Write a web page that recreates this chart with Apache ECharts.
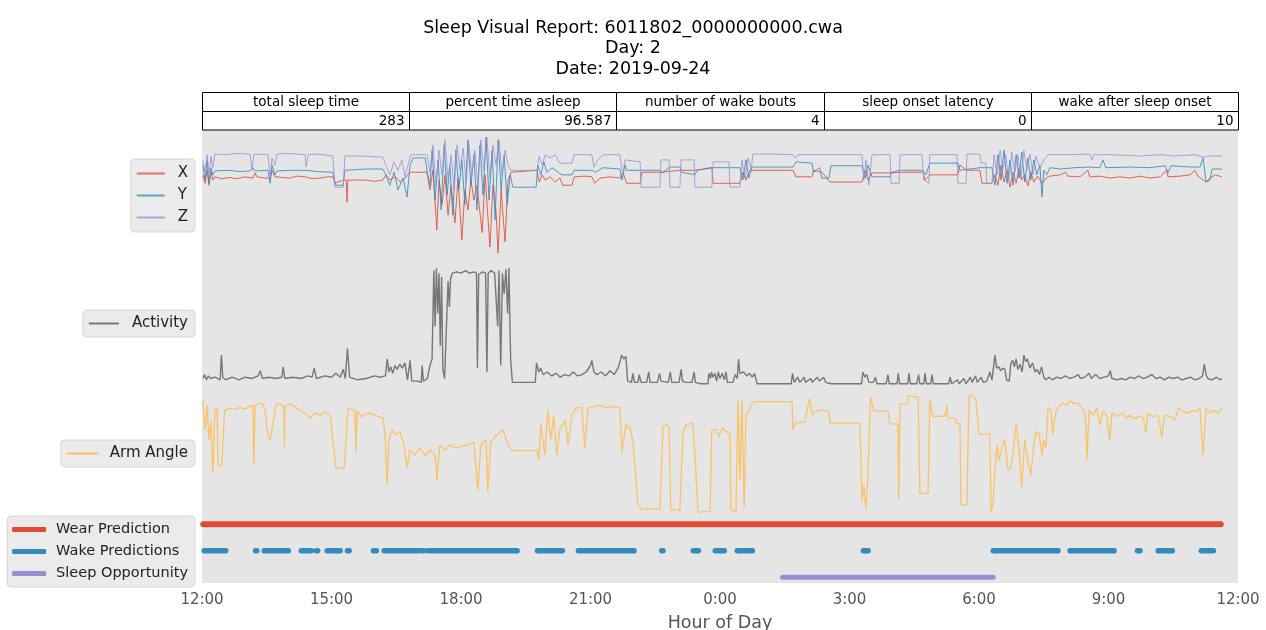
<!DOCTYPE html>
<html>
<head>
<meta charset="utf-8">
<title>Sleep Visual Report</title>
<script src="https://cdn.jsdelivr.net/npm/echarts@6/dist/echarts.min.js"></script>
<style>
  html, body { margin: 0; padding: 0; background: #fff; }
  #chart { width: 1266px; height: 630px; }
</style>
</head>
<body>
<div id="chart"></div>
<script>
  // time is hours after 12:00 on the report day
  const tickLabels = ['12:00', '15:00', '18:00', '21:00', '0:00', '3:00', '6:00', '9:00', '12:00'];

  const tableHeaders = ['total sleep time', 'percent time asleep', 'number of wake bouts', 'sleep onset latency', 'wake after sleep onset'];
  const tableValues = ['283', '96.587', '4', '0', '10'];

  // accelerometer axes (g)
  const accX = [
    [0.02,0.31],[0.07,0.18],[0.12,0.38],[0.16,0.15],[0.21,0.35],[0.25,0.23],[0.3,0.28],[0.45,0.25],[0.65,0.27],[0.8,0.25],[1.0,0.28],[1.18,0.26],[1.23,0.34],[1.27,0.28],[1.45,0.26],[1.58,0.26],[1.62,0.38],[1.69,0.28],[2.04,0.26],[2.2,0.29],[2.39,0.28],[2.55,0.25],[2.73,0.26],[2.9,0.28],[3.03,0.28],[3.08,0.18],[3.27,0.23],[3.34,0.23],[3.36,-0.11],[3.38,0.23],[3.78,0.23],[4.0,0.21],[4.19,0.23],[4.26,0.31],[4.35,0.23],[4.47,0.28],[4.59,0.2],[4.7,0.26],[4.82,0.35],[5.21,0.35],[5.28,0.08],[5.35,0.38],[5.44,-0.54],[5.49,0.23],[5.56,-0.15],[5.63,0.31],[5.7,-0.31],[5.77,0.15],[5.86,-0.43],[5.93,0.26],[6.02,-0.69],[6.09,0.08],[6.16,-0.23],[6.23,0.23],[6.3,-0.08],[6.37,0.15],[6.49,-0.58],[6.56,0.31],[6.62,-0.31],[6.67,-0.8],[6.74,0.15],[6.81,-0.23],[6.86,-0.89],[6.93,0.08],[7.02,-0.72],[7.09,0.23],[7.16,0.35],[7.2,0.38],[7.76,0.38],[7.81,0.2],[7.88,0.31],[7.95,0.23],[8.06,0.28],[8.18,0.2],[8.29,0.26],[8.36,0.15],[8.57,0.15],[8.62,0.28],[8.87,0.29],[9.03,0.28],[9.1,0.18],[9.22,0.26],[9.45,0.28],[9.68,0.26],[9.75,0.35],[9.84,0.18],[10.15,0.18],[10.19,0.35],[10.61,0.35],[11.07,0.38],[11.42,0.38],[11.81,0.42],[11.84,0.18],[12.46,0.18],[12.53,0.35],[12.6,0.23],[12.69,0.38],[13.69,0.38],[13.76,0.28],[14.13,0.28],[14.17,0.38],[14.36,0.35],[14.55,0.2],[15.29,0.2],[15.36,0.38],[15.43,0.23],[15.52,0.34],[15.94,0.34],[16.17,0.35],[16.7,0.35],[16.75,0.23],[16.86,0.31],[17.51,0.31],[17.56,0.46],[17.72,0.38],[18.02,0.38],[18.07,0.18],[18.3,0.18],[18.37,0.31],[18.44,0.15],[18.51,0.46],[18.58,0.2],[18.65,0.38],[18.72,0.12],[18.79,0.35],[18.86,0.18],[18.93,0.42],[18.99,0.23],[19.06,0.31],[19.13,0.14],[19.2,0.35],[19.27,0.2],[19.36,0.29],[19.46,0.18],[19.55,0.26],[19.64,0.29],[19.88,0.31],[20.0,0.35],[20.06,0.29],[20.34,0.28],[20.52,0.38],[20.57,0.28],[20.8,0.29],[21.03,0.26],[21.26,0.28],[21.5,0.26],[21.73,0.29],[21.96,0.26],[22.2,0.28],[22.34,0.38],[22.38,0.28],[22.66,0.29],[22.89,0.31],[23.0,0.38],[23.07,0.29],[23.26,0.2],[23.35,0.26],[23.47,0.31],[23.63,0.28]
  ];
  const accY = [
    [0.02,0.46],[0.07,0.23],[0.12,0.54],[0.16,0.18],[0.21,0.42],[0.25,0.31],[0.3,0.37],[0.6,0.38],[0.9,0.36],[1.11,0.37],[1.18,0.42],[1.23,0.37],[1.53,0.38],[1.58,0.18],[1.62,0.46],[1.69,0.31],[1.74,0.37],[2.1,0.38],[2.39,0.38],[2.7,0.36],[3.03,0.35],[3.06,0.26],[3.1,0.15],[3.27,0.15],[3.31,0.38],[3.8,0.4],[4.19,0.4],[4.26,0.31],[4.35,0.15],[4.45,0.35],[4.54,0.08],[4.66,0.26],[4.75,-0.03],[4.82,0.46],[4.89,0.57],[5.17,0.57],[5.21,0.38],[5.28,0.15],[5.33,0.69],[5.4,-0.08],[5.47,0.54],[5.54,-0.23],[5.61,0.77],[5.68,0.0],[5.74,0.46],[5.81,-0.31],[5.88,0.69],[5.95,0.08],[6.02,0.54],[6.09,-0.15],[6.16,0.85],[6.23,0.15],[6.3,0.62],[6.37,-0.23],[6.44,0.77],[6.51,0.0],[6.58,0.89],[6.65,-0.08],[6.72,0.69],[6.79,-0.38],[6.86,0.85],[6.93,0.08],[7.0,0.62],[7.07,-0.15],[7.14,0.31],[7.2,0.12],[7.74,0.12],[7.78,0.46],[7.85,0.31],[7.92,0.51],[7.99,0.35],[8.11,0.42],[8.25,0.35],[8.34,0.31],[8.57,0.31],[8.62,0.38],[9.03,0.38],[9.12,0.35],[9.29,0.42],[9.68,0.4],[9.73,0.23],[9.8,0.46],[9.84,0.38],[10.61,0.38],[10.66,0.34],[10.84,0.43],[11.07,0.43],[11.12,0.35],[11.42,0.31],[11.47,0.38],[11.81,0.42],[12.46,0.42],[12.53,0.23],[12.6,0.54],[12.67,0.26],[12.74,0.43],[13.69,0.43],[13.76,0.51],[14.13,0.49],[14.17,0.35],[14.31,0.42],[14.36,0.26],[14.52,0.26],[14.57,0.45],[15.29,0.45],[15.36,0.26],[15.43,0.46],[15.52,0.28],[15.94,0.28],[15.98,0.35],[16.17,0.38],[16.7,0.38],[16.77,0.31],[16.86,0.49],[17.51,0.49],[17.56,0.38],[18.02,0.42],[18.3,0.42],[18.37,0.15],[18.44,0.62],[18.51,0.23],[18.58,0.69],[18.65,0.18],[18.72,0.54],[18.79,0.15],[18.86,0.62],[18.93,0.26],[18.99,0.66],[19.06,0.2],[19.13,0.57],[19.2,0.23],[19.27,0.54],[19.34,0.31],[19.41,0.46],[19.46,-0.03],[19.5,0.38],[19.57,0.31],[19.64,0.42],[19.88,0.4],[20.22,0.42],[20.57,0.43],[20.8,0.42],[20.87,0.54],[20.94,0.42],[21.5,0.43],[21.96,0.42],[22.31,0.45],[22.38,0.34],[22.45,0.45],[22.89,0.43],[23.12,0.43],[23.19,0.57],[23.26,0.2],[23.35,0.23],[23.4,0.4],[23.63,0.4]
  ];
  const accZ = [
    [0.02,0.54],[0.07,0.35],[0.12,0.62],[0.16,0.31],[0.21,0.6],[0.25,0.42],[0.3,0.63],[0.55,0.62],[0.8,0.64],[1.11,0.63],[1.16,0.38],[1.2,0.63],[1.53,0.62],[1.58,0.26],[1.62,0.57],[1.69,0.46],[1.74,0.63],[2.0,0.64],[2.39,0.62],[2.41,0.43],[2.46,0.62],[2.7,0.63],[3.03,0.6],[3.08,0.12],[3.27,0.12],[3.31,0.6],[3.7,0.6],[4.19,0.58],[4.26,0.46],[4.35,0.31],[4.45,0.51],[4.54,0.38],[4.63,0.54],[4.7,0.28],[4.77,0.46],[4.84,0.62],[5.21,0.62],[5.28,0.35],[5.35,0.77],[5.42,0.15],[5.49,0.69],[5.56,0.31],[5.63,0.85],[5.7,0.23],[5.77,0.62],[5.84,0.08],[5.91,0.77],[5.98,0.38],[6.05,0.72],[6.12,0.18],[6.18,0.8],[6.25,0.31],[6.32,0.69],[6.39,0.15],[6.46,0.85],[6.53,0.38],[6.6,0.89],[6.67,0.26],[6.74,0.77],[6.81,0.46],[6.88,0.85],[6.95,0.31],[7.02,0.69],[7.09,0.46],[7.16,0.38],[7.2,0.38],[7.76,0.38],[7.81,0.6],[7.88,0.46],[7.95,0.62],[8.06,0.57],[8.18,0.62],[8.29,0.49],[8.57,0.49],[8.62,0.62],[9.03,0.62],[9.08,0.43],[9.17,0.54],[9.29,0.62],[9.68,0.62],[9.75,0.31],[9.8,0.54],[9.84,0.51],[10.15,0.51],[10.17,0.12],[10.61,0.12],[10.63,0.54],[10.82,0.54],[10.84,0.12],[11.07,0.12],[11.1,0.54],[11.4,0.54],[11.42,0.12],[11.81,0.12],[11.84,0.51],[12.21,0.51],[12.23,0.12],[12.46,0.12],[12.51,0.54],[12.58,0.26],[12.65,0.57],[12.72,0.38],[12.76,0.63],[13.2,0.63],[13.69,0.62],[13.74,0.57],[13.81,0.62],[14.5,0.62],[15.29,0.62],[15.33,0.23],[15.38,0.54],[15.45,0.15],[15.52,0.62],[15.94,0.62],[15.96,0.18],[16.15,0.18],[16.17,0.62],[16.68,0.62],[16.72,0.23],[16.84,0.18],[16.86,0.62],[17.49,0.62],[17.51,0.18],[17.7,0.18],[17.72,0.63],[18.02,0.63],[18.05,0.49],[18.16,0.49],[18.18,0.18],[18.3,0.18],[18.35,0.62],[18.42,0.31],[18.49,0.69],[18.55,0.38],[18.62,0.62],[18.69,0.23],[18.76,0.66],[18.83,0.35],[18.9,0.62],[18.97,0.26],[19.04,0.69],[19.11,0.38],[19.18,0.63],[19.25,0.31],[19.32,0.6],[19.41,0.42],[19.5,0.54],[19.6,0.62],[19.64,0.63],[20.11,0.62],[20.57,0.63],[20.62,0.54],[20.66,0.62],[21.03,0.62],[21.4,0.61],[21.73,0.6],[22.2,0.62],[22.54,0.6],[23.0,0.62],[23.23,0.58],[23.3,0.6],[23.63,0.6]
  ];

  // activity (g)
  const activity = [
    [0.02,0.05],[0.06,0.08],[0.1,0.04],[0.15,0.07],[0.2,0.05],[0.3,0.06],[0.42,0.04],[0.45,0.23],[0.48,0.06],[0.55,0.04],[0.7,0.06],[0.85,0.04],[1.0,0.06],[1.15,0.05],[1.3,0.07],[1.35,0.11],[1.4,0.05],[1.55,0.06],[1.7,0.05],[1.85,0.06],[1.88,0.14],[1.92,0.05],[2.1,0.06],[2.3,0.05],[2.45,0.07],[2.55,0.06],[2.6,0.13],[2.65,0.05],[2.85,0.07],[3.0,0.06],[3.1,0.09],[3.2,0.06],[3.27,0.12],[3.32,0.05],[3.37,0.28],[3.42,0.06],[3.6,0.04],[3.8,0.05],[4.0,0.07],[4.1,0.06],[4.25,0.07],[4.29,0.2],[4.33,0.1],[4.37,0.14],[4.42,0.09],[4.47,0.15],[4.52,0.12],[4.58,0.16],[4.64,0.13],[4.7,0.17],[4.76,0.04],[4.82,0.19],[4.86,0.03],[5.0,0.03],[5.08,0.02],[5.1,0.15],[5.13,0.03],[5.22,0.05],[5.28,0.15],[5.33,0.2],[5.37,0.88],[5.4,0.45],[5.43,0.9],[5.46,0.55],[5.49,0.86],[5.52,0.3],[5.55,0.83],[5.58,0.12],[5.62,0.05],[5.66,0.04],[5.7,0.8],[5.73,0.6],[5.76,0.82],[5.8,0.86],[5.9,0.87],[6.0,0.86],[6.1,0.88],[6.2,0.86],[6.3,0.87],[6.36,0.86],[6.38,0.13],[6.41,0.85],[6.5,0.87],[6.57,0.86],[6.6,0.1],[6.63,0.86],[6.7,0.88],[6.78,0.86],[6.82,0.87],[6.85,0.45],[6.88,0.88],[6.92,0.15],[6.96,0.86],[7.0,0.7],[7.04,0.89],[7.08,0.55],[7.11,0.9],[7.15,0.2],[7.19,0.02],[7.72,0.02],[7.75,0.17],[7.8,0.1],[7.85,0.13],[7.9,0.08],[8.0,0.1],[8.1,0.07],[8.2,0.09],[8.3,0.06],[8.4,0.08],[8.5,0.07],[8.6,0.1],[8.7,0.07],[8.8,0.08],[8.9,0.1],[9.0,0.15],[9.03,0.19],[9.08,0.1],[9.15,0.08],[9.25,0.1],[9.35,0.07],[9.45,0.11],[9.55,0.08],[9.65,0.14],[9.72,0.23],[9.77,0.2],[9.82,0.22],[9.86,0.03],[9.95,0.02],[9.98,0.09],[10.02,0.02],[10.1,0.02],[10.13,0.08],[10.17,0.02],[10.3,0.02],[10.35,0.1],[10.38,0.02],[10.55,0.02],[10.6,0.09],[10.63,0.03],[10.8,0.02],[10.85,0.1],[10.88,0.02],[11.05,0.02],[11.1,0.12],[11.13,0.03],[11.2,0.02],[11.35,0.02],[11.4,0.1],[11.43,0.02],[11.55,0.01],[11.72,0.01],[11.74,0.09],[11.78,0.05],[11.8,0.1],[11.84,0.06],[11.88,0.09],[11.92,0.03],[11.96,0.1],[12.0,0.05],[12.05,0.09],[12.1,0.04],[12.14,0.1],[12.17,0.02],[12.3,0.02],[12.35,0.08],[12.4,0.05],[12.43,0.2],[12.46,0.09],[12.55,0.1],[12.62,0.07],[12.68,0.09],[12.75,0.06],[12.8,0.09],[12.86,0.01],[13.65,0.01],[13.68,0.09],[13.72,0.02],[13.8,0.06],[13.85,0.02],[13.95,0.06],[13.98,0.02],[14.1,0.05],[14.14,0.02],[14.25,0.06],[14.3,0.03],[14.4,0.06],[14.45,0.02],[14.57,0.01],[15.28,0.01],[15.31,0.1],[15.36,0.06],[15.4,0.08],[15.45,0.02],[15.55,0.02],[15.6,0.06],[15.64,0.01],[15.85,0.01],[15.89,0.08],[15.92,0.01],[16.1,0.01],[16.13,0.09],[16.16,0.01],[16.35,0.01],[16.38,0.09],[16.41,0.01],[16.56,0.01],[16.6,0.08],[16.63,0.01],[16.72,0.01],[16.75,0.09],[16.78,0.01],[16.88,0.01],[16.91,0.08],[16.94,0.01],[17.3,0.01],[17.33,0.06],[17.37,0.01],[17.5,0.04],[17.54,0.01],[17.65,0.05],[17.7,0.01],[17.8,0.06],[17.84,0.02],[17.92,0.07],[17.96,0.02],[18.05,0.06],[18.1,0.02],[18.18,0.03],[18.25,0.1],[18.3,0.04],[18.37,0.23],[18.41,0.13],[18.46,0.14],[18.5,0.11],[18.55,0.13],[18.6,0.12],[18.64,0.04],[18.7,0.03],[18.74,0.17],[18.78,0.19],[18.82,0.14],[18.86,0.2],[18.9,0.12],[18.95,0.16],[19.0,0.1],[19.04,0.23],[19.08,0.18],[19.12,0.2],[19.18,0.13],[19.24,0.17],[19.3,0.1],[19.35,0.12],[19.4,0.08],[19.45,0.14],[19.5,0.06],[19.55,0.04],[19.62,0.06],[19.7,0.04],[19.8,0.06],[19.9,0.05],[20.0,0.07],[20.1,0.05],[20.2,0.06],[20.3,0.08],[20.35,0.05],[20.45,0.06],[20.55,0.09],[20.6,0.05],[20.7,0.08],[20.8,0.05],[20.9,0.06],[21.0,0.07],[21.04,0.11],[21.08,0.05],[21.2,0.04],[21.3,0.05],[21.4,0.04],[21.5,0.06],[21.6,0.05],[21.7,0.07],[21.8,0.05],[21.9,0.06],[22.0,0.08],[22.1,0.05],[22.2,0.06],[22.3,0.04],[22.4,0.06],[22.5,0.05],[22.6,0.06],[22.7,0.04],[22.8,0.05],[22.9,0.06],[23.0,0.04],[23.1,0.05],[23.18,0.07],[23.22,0.16],[23.26,0.08],[23.3,0.05],[23.4,0.04],[23.5,0.06],[23.58,0.04],[23.63,0.05]
  ];

  // arm angle (degrees)
  const armAngle = [
    [0.02,76],[0.07,35],[0.12,69],[0.16,21],[0.21,48],[0.25,-25],[0.3,62],[0.35,65],[0.37,-15],[0.46,-15],[0.51,48],[0.53,62],[0.65,65],[0.75,63],[0.88,66],[1.0,64],[1.11,67],[1.18,69],[1.2,-14],[1.23,69],[1.39,72],[1.46,62],[1.53,25],[1.58,21],[1.64,42],[1.71,69],[1.81,71],[1.9,66],[1.91,11],[1.92,67],[2.04,71],[2.15,67],[2.27,62],[2.39,58],[2.5,51],[2.62,58],[2.73,55],[2.85,60],[2.97,55],[3.03,21],[3.1,-18],[3.29,-19],[3.34,21],[3.38,65],[3.54,62],[3.57,4],[3.59,60],[3.71,53],[3.85,58],[4.01,55],[4.19,51],[4.24,30],[4.29,-42],[4.33,21],[4.4,35],[4.49,28],[4.59,32],[4.68,14],[4.75,-18],[4.82,7],[4.93,0],[5.05,10],[5.17,-1],[5.28,7],[5.4,0],[5.44,-35],[5.51,14],[5.63,7],[5.74,14],[5.86,10],[6.0,12],[6.21,15],[6.3,18],[6.39,-49],[6.46,14],[6.58,21],[6.62,-51],[6.69,18],[6.83,28],[6.97,35],[7.09,14],[7.18,6],[7.76,6],[7.8,-7],[7.85,42],[7.94,0],[8.01,62],[8.08,21],[8.15,55],[8.22,0],[8.29,35],[8.41,48],[8.48,14],[8.57,55],[8.66,65],[8.8,66],[8.87,10],[8.94,65],[9.1,67],[9.21,69],[9.35,66],[9.5,67],[9.68,66],[9.73,4],[9.82,42],[9.91,37],[9.98,21],[10.1,-69],[10.19,-75],[10.61,-75],[10.68,39],[10.77,42],[10.82,39],[10.86,-76],[11.07,-76],[11.14,30],[11.21,42],[11.37,44],[11.44,-21],[11.49,-79],[11.77,-78],[11.81,34],[11.91,35],[11.98,26],[12.05,37],[12.16,32],[12.23,30],[12.25,-75],[12.37,-79],[12.42,76],[12.46,-35],[12.51,74],[12.56,-73],[12.6,55],[12.67,62],[12.74,71],[12.81,74],[13.67,74],[13.69,35],[13.74,44],[13.97,46],[14.04,69],[14.08,78],[14.13,55],[14.2,60],[14.32,62],[14.52,60],[14.55,44],[15.24,44],[15.29,-62],[15.33,-42],[15.38,-73],[15.42,-35],[15.49,80],[15.56,61],[15.89,61],[15.93,43],[16.12,43],[16.14,-62],[16.17,71],[16.35,71],[16.37,82],[16.59,80],[16.63,-53],[16.82,-53],[16.86,76],[16.93,53],[17.21,54],[17.26,69],[17.28,51],[17.44,51],[17.49,43],[17.56,43],[17.58,-69],[17.72,-69],[17.77,83],[17.86,82],[17.93,76],[18.0,29],[18.25,29],[18.28,-79],[18.32,-69],[18.37,-21],[18.42,14],[18.46,-7],[18.53,10],[18.6,21],[18.67,-21],[18.74,-18],[18.79,4],[18.86,42],[18.93,7],[18.99,-45],[19.06,21],[19.13,-7],[19.2,-28],[19.27,14],[19.32,32],[19.39,30],[19.46,0],[19.5,21],[19.55,10],[19.6,66],[19.67,62],[19.71,28],[19.78,60],[19.85,67],[19.94,72],[20.04,69],[20.11,75],[20.2,71],[20.29,72],[20.39,65],[20.46,58],[20.5,-7],[20.55,62],[20.64,55],[20.73,65],[20.8,42],[20.87,60],[20.96,55],[21.03,21],[21.08,58],[21.2,53],[21.31,58],[21.43,51],[21.5,55],[21.61,50],[21.71,54],[21.8,51],[21.87,32],[21.91,58],[22.03,53],[22.15,55],[22.24,24],[22.29,55],[22.42,54],[22.54,48],[22.63,65],[22.72,60],[22.84,58],[22.96,62],[23.05,60],[23.12,66],[23.19,0],[23.26,65],[23.35,58],[23.44,62],[23.54,58],[23.63,64]
  ];

  // prediction periods as [start, end] hours
  const wearPeriods = [[0.03, 23.6]];
  const wakeBouts = [[0.05,0.55],[1.24,1.27],[1.44,2.0],[2.3,2.53],[2.65,2.68],[2.9,3.2],[3.37,3.41],[3.97,4.04],[4.22,5.03],[5.11,5.14],[5.24,7.3],[7.77,8.35],[8.72,10.01],[10.65,10.68],[11.38,11.5],[11.89,12.1],[12.4,12.75],[15.32,15.43],[18.33,19.83],[20.11,21.13],[21.67,21.73],[22.15,22.48],[23.15,23.43]];
  const sleepWindows = [[13.45, 18.33]];

  const predictionRows = ['Sleep Opportunity', 'Wake Predictions', 'Wear Prediction'];

  function periodsToLine(periods, row) {
    const idx = predictionRows.indexOf(row);
    const out = [];
    periods.forEach(function (p) {
      out.push([p[0], idx], [p[1], idx], ['-', '-']);
    });
    return out;
  }

  const FONT = 'DejaVu Sans';
  const LEFT = 202, WIDTH = 1036;
  const colors = { x: '#E24A33', y: '#348ABD', z: '#988ED5', act: '#777777', arm: '#FBC15E' };

  // table above the plot
  const tableGraphic = [];
  const colW = WIDTH / tableHeaders.length;
  const tTop = 92.5, headH = 19, rowH = 18.5;
  tableHeaders.forEach(function (h, i) {
    const x0 = Math.round(LEFT + i * colW) + 0.5;
    const x1 = Math.round(LEFT + (i + 1) * colW) + 0.5;
    tableGraphic.push({
      type: 'rect', silent: true,
      shape: { x: x0, y: tTop, width: x1 - x0, height: headH },
      style: { fill: '#fff', stroke: '#000', lineWidth: 1 }
    });
    tableGraphic.push({
      type: 'rect', silent: true,
      shape: { x: x0, y: tTop + headH, width: x1 - x0, height: rowH },
      style: { fill: '#fff', stroke: '#000', lineWidth: 1 }
    });
    tableGraphic.push({
      type: 'text', silent: true, x: (x0 + x1) / 2, y: tTop + headH / 2 + 0.5,
      style: { text: h, fill: '#000', fontSize: 13.5, fontFamily: FONT, align: 'center', verticalAlign: 'middle' }
    });
    tableGraphic.push({
      type: 'text', silent: true, x: x1 - 5, y: tTop + headH + rowH / 2 + 0.5,
      style: { text: tableValues[i], fill: '#000', fontSize: 13.5, fontFamily: FONT, align: 'right', verticalAlign: 'middle' }
    });
  });

  const hiddenX = function (i) {
    return { gridIndex: i, type: 'value', min: 0, max: 24, interval: 3, show: false };
  };

  const legendBase = {
    orient: 'vertical',
    right: 1266 - 195,
    selectedMode: false,
    backgroundColor: '#ebebeb',
    borderColor: '#d6d6d6',
    borderWidth: 1,
    borderRadius: 4,
    icon: 'rect',
    itemHeight: 2,
    textStyle: { fontFamily: FONT, fontSize: 15, color: '#222', padding: [0, 0, 0, 8] }
  };

  const gridBase = { left: LEFT, width: WIDTH, containLabel: false, outerBoundsMode: 'none' };

  const chart = echarts.init(document.getElementById('chart'), null, { renderer: 'canvas' });
  chart.setOption({
    animation: false,
    backgroundColor: '#fff',
    title: {
      text: 'Sleep Visual Report: 6011802_0000000000.cwa\nDay: 2\nDate: 2019-09-24',
      left: 'center',
      top: 13,
      textStyle: { fontFamily: FONT, fontSize: 17.5, fontWeight: 'normal', color: '#000', lineHeight: 20.5 }
    },
    graphic: tableGraphic,
    legend: [
      Object.assign({}, legendBase, {
        top: 159, padding: [7, 7, 7, 6], itemWidth: 28, itemGap: 7,
        data: [
          { name: 'X', itemStyle: { opacity: 0.75 } },
          { name: 'Y', itemStyle: { opacity: 0.75 } },
          { name: 'Z', itemStyle: { opacity: 0.75 } }
        ]
      }),
      Object.assign({}, legendBase, {
        top: 310, padding: [6, 7, 6, 6], itemWidth: 30,
        data: ['Activity']
      }),
      Object.assign({}, legendBase, {
        top: 440, padding: [6, 7, 6, 6], itemWidth: 32,
        textStyle: Object.assign({}, legendBase.textStyle, { padding: [0, 0, 0, 6] }),
        data: ['Arm Angle']
      }),
      Object.assign({}, legendBase, {
        top: 516, padding: [6, 7, 6, 5], itemWidth: 34, itemHeight: 5, itemGap: 7,
        icon: 'roundRect',
        textStyle: Object.assign({}, legendBase.textStyle, { fontSize: 14.5, padding: [0, 0, 0, 5] }),
        data: ['Wear Prediction', 'Wake Predictions', 'Sleep Opportunity']
      })
    ],
    grid: [
      Object.assign({}, gridBase, { top: 130, height: 453, show: true, backgroundColor: '#E5E5E5', borderWidth: 0 }),
      Object.assign({}, gridBase, { top: 130, height: 130 }),
      Object.assign({}, gridBase, { top: 255, height: 130 }),
      Object.assign({}, gridBase, { top: 390, height: 130 }),
      Object.assign({}, gridBase, { top: 511, height: 79.5 })
    ],
    xAxis: [
      {
        gridIndex: 0, type: 'value', min: 0, max: 24, interval: 3,
        axisLine: { show: false }, axisTick: { show: false }, splitLine: { show: false },
        axisLabel: {
          margin: 10, fontFamily: FONT, fontSize: 15, color: '#555',
          formatter: function (v) { return tickLabels[Math.round(v / 3)]; }
        },
        name: 'Hour of Day', nameLocation: 'middle', nameGap: 31,
        nameTextStyle: { fontFamily: FONT, fontSize: 17.5, color: '#555' }
      },
      hiddenX(1), hiddenX(2), hiddenX(3), hiddenX(4)
    ],
    yAxis: [
      { gridIndex: 0, type: 'value', show: false, min: 0, max: 1 },
      { gridIndex: 1, type: 'value', show: false, min: -1, max: 1 },
      { gridIndex: 2, type: 'value', show: false, min: 0, max: 1 },
      { gridIndex: 3, type: 'value', show: false, min: -90, max: 90 },
      { gridIndex: 4, type: 'category', show: false, data: predictionRows }
    ],
    series: [
      {
        name: 'X', type: 'line', xAxisIndex: 1, yAxisIndex: 1, data: accX,
        showSymbol: false, symbol: 'none', silent: true,
        itemStyle: { color: colors.x },
        lineStyle: { color: colors.x, width: 1, opacity: 0.85 }
      },
      {
        name: 'Y', type: 'line', xAxisIndex: 1, yAxisIndex: 1, data: accY,
        showSymbol: false, symbol: 'none', silent: true,
        itemStyle: { color: colors.y },
        lineStyle: { color: colors.y, width: 1, opacity: 0.85 }
      },
      {
        name: 'Z', type: 'line', xAxisIndex: 1, yAxisIndex: 1, data: accZ,
        showSymbol: false, symbol: 'none', silent: true,
        itemStyle: { color: colors.z },
        lineStyle: { color: colors.z, width: 1, opacity: 0.8 }
      },
      {
        name: 'Activity', type: 'line', xAxisIndex: 2, yAxisIndex: 2, data: activity,
        showSymbol: false, symbol: 'none', silent: true,
        itemStyle: { color: colors.act },
        lineStyle: { color: colors.act, width: 1.4 }
      },
      {
        name: 'Arm Angle', type: 'line', xAxisIndex: 3, yAxisIndex: 3, data: armAngle,
        showSymbol: false, symbol: 'none', silent: true,
        itemStyle: { color: colors.arm },
        lineStyle: { color: colors.arm, width: 1.3, opacity: 0.95 }
      },
      {
        name: 'Wear Prediction', type: 'line', xAxisIndex: 4, yAxisIndex: 4,
        data: periodsToLine(wearPeriods, 'Wear Prediction'),
        showSymbol: false, symbol: 'none', silent: true, connectNulls: false,
        itemStyle: { color: colors.x },
        lineStyle: { color: colors.x, width: 6, cap: 'round' }
      },
      {
        name: 'Wake Predictions', type: 'line', xAxisIndex: 4, yAxisIndex: 4,
        data: periodsToLine(wakeBouts, 'Wake Predictions'),
        showSymbol: false, symbol: 'none', silent: true, connectNulls: false,
        itemStyle: { color: colors.y },
        lineStyle: { color: colors.y, width: 5.5, cap: 'round' }
      },
      {
        name: 'Sleep Opportunity', type: 'line', xAxisIndex: 4, yAxisIndex: 4,
        data: periodsToLine(sleepWindows, 'Sleep Opportunity'),
        showSymbol: false, symbol: 'none', silent: true, connectNulls: false,
        itemStyle: { color: colors.z },
        lineStyle: { color: colors.z, width: 5, cap: 'round' }
      }
    ]
  });
</script>
</body>
</html>
